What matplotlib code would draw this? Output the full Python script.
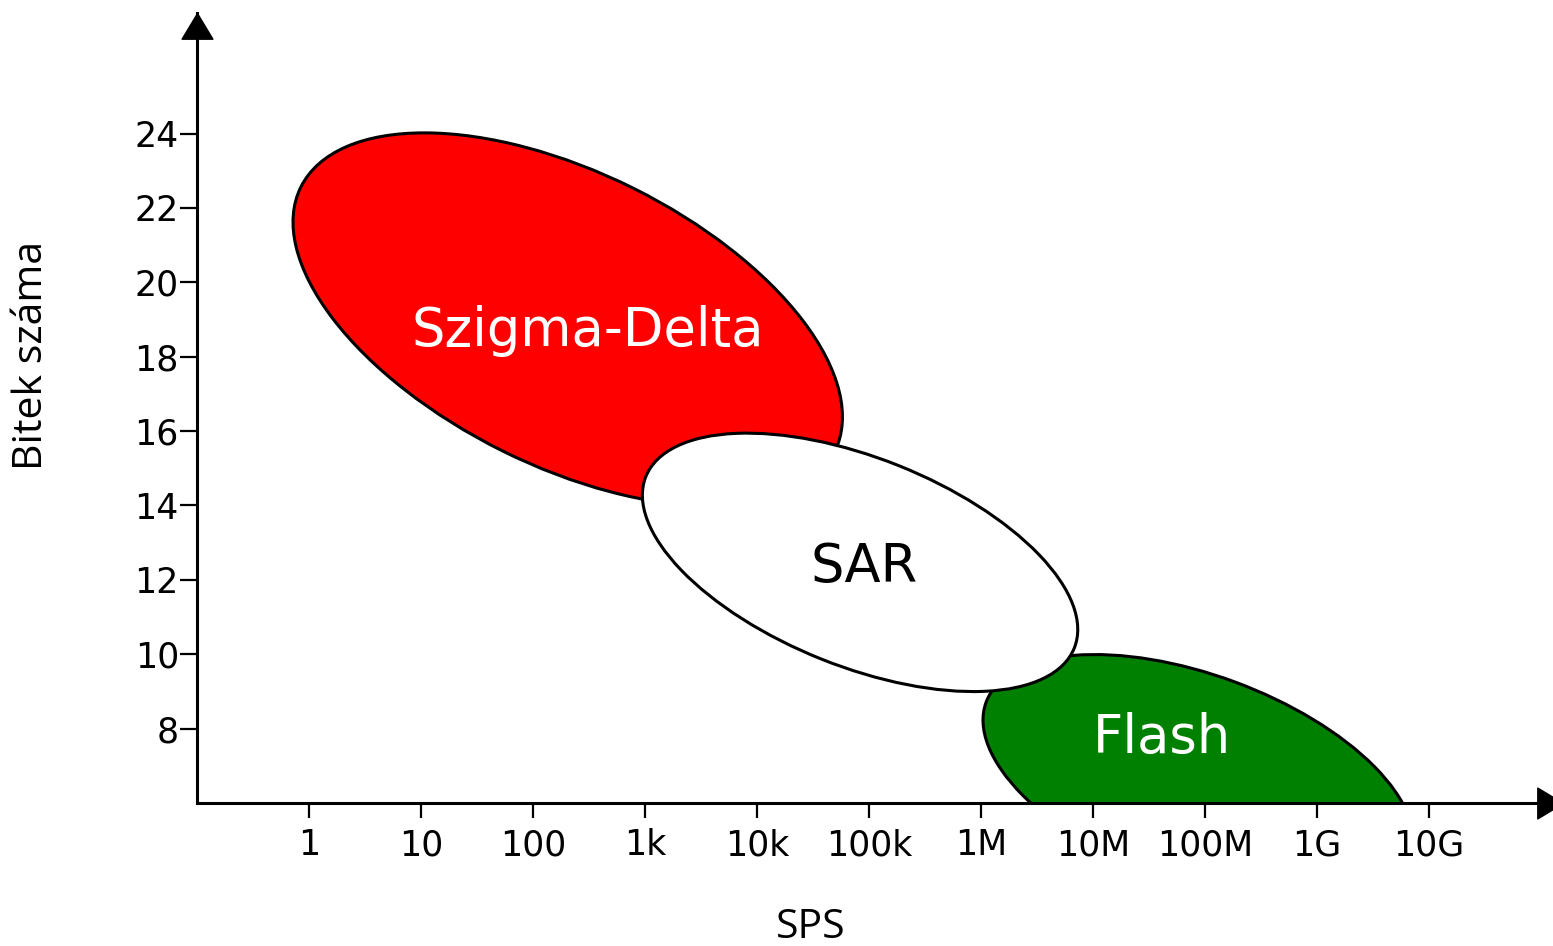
import numpy as np
import matplotlib
matplotlib.use("Agg")
from matplotlib import pyplot as plt
from matplotlib.patches import Ellipse
from matplotlib.transforms import Affine2D

### Data ###
sps_labels = ['1', '10', '100', '1k', '10k', '100k', '1M', '10M', '100M', '1G', '10G']
sps_log = np.arange(len(sps_labels))          # log10(SPS)
bit_ticks = [8, 10, 12, 14, 16, 18, 20, 22, 24]

regions = ['Szigma-Delta', 'SAR', 'Flash']
center_sps_log = [2.31, 4.92, 7.94]     # log10(SPS) of region centre
center_bits = [19.0, 12.47, 6.60]
semi_major = [2.66, 2.06, 2.02]         # in decades
semi_minor = [1.31, 0.93, 0.94]
tilt_deg = [-26.4, -21.8, -20.3]
fill_colors = ['#ff0000', '#ffffff', '#008000']
text_colors = ['white', 'black', 'white']
label_sps_log = [2.49, 4.96, 7.62]
label_bits = [18.28, 11.94, 7.34]
z_order = [1, 3, 2]

### Figure ###
W, H = 1553, 946
fig = plt.figure(figsize=(W / 100, H / 100), dpi=100)
ax = fig.add_axes([197 / W, (H - 803) / H, (1563 - 197) / W, (803 - 13) / H])
x0, x1 = -1.0, 11.196
y0, y1 = 6.0, 27.24
ax.set_xlim(x0, x1)
ax.set_ylim(y0, y1)

# ratio between px per bit and px per decade, so ellipses are tilted in screen space
pos = ax.get_position()
r = (pos.height * H / (y1 - y0)) / (pos.width * W / (x1 - x0))

for ii in range(len(regions)):
    e = Ellipse((center_sps_log[ii], center_bits[ii] * r),
                width=2 * semi_major[ii], height=2 * semi_minor[ii], angle=tilt_deg[ii],
                facecolor=fill_colors[ii], edgecolor='black', linewidth=2.2,
                transform=Affine2D().scale(1, 1 / r) + ax.transData, zorder=z_order[ii])
    ax.add_patch(e)
    ax.text(label_sps_log[ii], label_bits[ii], regions[ii], color=text_colors[ii],
            fontsize=38, ha='center', va='baseline', zorder=5)

ax.set_xlim(x0, x1)
ax.set_ylim(y0, y1)

for s in ['top', 'right']:
    ax.spines[s].set_visible(False)
for s in ['left', 'bottom']:
    ax.spines[s].set_linewidth(2.2)
    ax.spines[s].set_capstyle('projecting')
    ax.spines[s].set_zorder(6)

ax.set_xticks(sps_log)
ax.set_xticklabels(sps_labels)
ax.set_yticks(bit_ticks)
ax.set_yticklabels([str(b) for b in bit_ticks])
ax.tick_params(axis='x', length=11, width=1.6, pad=7, labelsize=25)
ax.tick_params(axis='y', length=12, width=1.6, pad=1, labelsize=25)

# arrow heads
head = [(0, 0), (-0.6, -1), (0.6, -1), (0, 0)]
head_r = [(0, 0), (-1, 0.6), (-1, -0.6), (0, 0)]
ax.plot([0], [1], marker=head, markersize=37, color='black', transform=ax.transAxes,
        clip_on=False, zorder=7)
ax.plot([1], [0], marker=head_r, markersize=37, color='black', transform=ax.transAxes,
        clip_on=False, zorder=7)

fig.text(32 / W, 1 - 355 / H, 'Bitek száma', rotation=90, ha='center', va='center',
         fontsize=29.5, family='Open Sans')
fig.text(811 / W, 1 - 938 / H, 'SPS', ha='center', va='baseline', fontsize=29.5,
         family='Open Sans')

fig.savefig('out.png', dpi=100)
